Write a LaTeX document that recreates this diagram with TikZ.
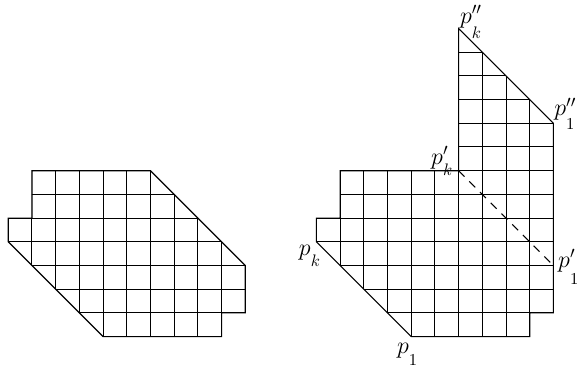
\documentclass[tikz,border=0pt]{standalone}
\tikzset{
  gridline/.style={line width=0.6pt},
  outline/.style={line width=0.7pt, line join=miter},
  oldedge/.style={line width=0.7pt, dash pattern=on 5pt off 4.1pt},
  lbl/.style={anchor=base west, inner sep=0pt, font=\fontsize{14.4}{16}\selectfont}
}
\newcommand{\plab}[3]{$p$\rlap{\raisebox{-#3}{$\scriptstyle #1$}}$^{#2}$}
\begin{document}
\begin{tikzpicture}
\useasboundingbox (0,0) rectangle (12.236,-7.785);
% left figure
\begin{scope}[shift={(0.175,-3.601)}, x=0.5cm, y=-0.5cm]
  \begin{scope}
    \clip (1,0) -- (6,0) -- (10,4) -- (10,6) -- (9,6) -- (9,7) -- (4,7) -- (0,3) -- (0,2) -- (1,2) -- cycle;
    \foreach \i in {0,...,10} \draw[gridline] (\i,0) -- (\i,7);
    \foreach \j in {0,...,7} \draw[gridline] (0,\j) -- (10,\j);
  \end{scope}
  \draw[outline] (1,0) -- (6,0) -- (10,4) -- (10,6) -- (9,6) -- (9,7) -- (4,7) -- (0,3) -- (0,2) -- (1,2) -- cycle;
\end{scope}
% right figure
\begin{scope}[shift={(6.675,-3.601)}, x=0.5cm, y=-0.5cm]
  \coordinate (pkpp) at (6,-6);
  \coordinate (p1pp) at (10,-2);
  \coordinate (pkp) at (6,0);
  \coordinate (p1p) at (10,4);
  \coordinate (pk) at (0,3);
  \coordinate (p1) at (4,7);
  \begin{scope}
    \clip (1,0) -- (pkp) -- (pkpp) -- (p1pp) -- (10,6) -- (9,6) -- (9,7) -- (p1) -- (pk) -- (0,2) -- (1,2) -- cycle;
    \foreach \i in {0,...,10} \draw[gridline] (\i,-6) -- (\i,7);
    \foreach \j in {-6,...,7} \draw[gridline] (0,\j) -- (10,\j);
  \end{scope}
  \draw[outline] (1,0) -- (pkp) -- (pkpp) -- (p1pp) -- (10,6) -- (9,6) -- (9,7) -- (p1) -- (pk) -- (0,2) -- (1,2) -- cycle;
  \draw[oldedge] (pkp) -- (p1p);
\end{scope}
% labels
\node[lbl] (Lpkpp) at (9.70,-0.49) {\plab{k}{\prime\prime}{9pt}};
\node[lbl] (Lp1pp) at (11.69,-2.447) {\plab{1}{\prime\prime}{8.4pt}};
\node[lbl] (Lpkp) at (9.09,-3.460) {\plab{k}{\prime}{6.6pt}};
\node[lbl] (Lp1p) at (11.77,-5.643) {\plab{1}{\prime}{10pt}};
\node[lbl] (Lpk) at (6.30,-5.390) {\plab{k}{}{6.6pt}};
\node[lbl] (Lp1) at (8.37,-7.458) {\plab{1}{}{6.9pt}};
\end{tikzpicture}
\end{document}
